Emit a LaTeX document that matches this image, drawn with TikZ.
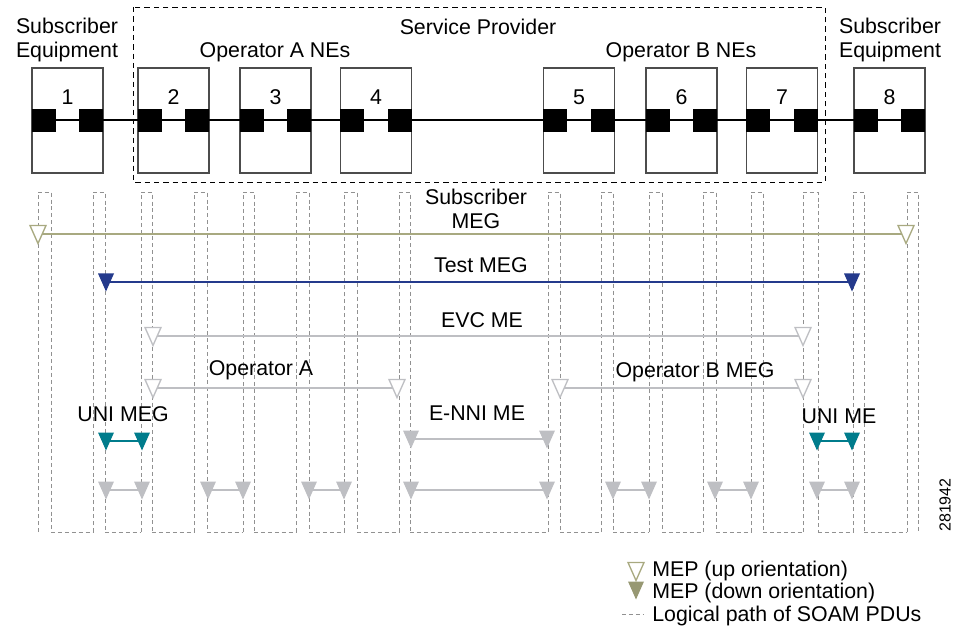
\documentclass[tikz,border=0pt]{standalone}
\usepackage{fontspec}
\setmainfont{Liberation Sans}
\usetikzlibrary{positioning}
\definecolor{subolive}{RGB}{168,169,128}
\definecolor{testblue}{RGB}{36,58,140}
\definecolor{megray}{RGB}{190,191,195}
\definecolor{uniteal}{RGB}{0,124,140}
\definecolor{pathgray}{RGB}{145,145,145}
\tikzset{
  nebox/.style = {draw=black!70, line width=0.8pt, minimum width=53.25pt,
                  minimum height=78.75pt, inner sep=0pt},
  port/.style = {fill=black, minimum width=18pt, minimum height=17.25pt, inner sep=0pt},
  lbl/.style = {font=\fontsize{16}{18.5}\selectfont, inner sep=0pt, align=center},
  soam/.style = {pathgray, line width=0.6pt, dash pattern=on 3pt off 2.2pt},
  megline/.style = {line width=1.6pt},
  mepUp/.pic = {
    % open triangle, tip down
    \filldraw[fill=white, line width=1pt] (-8,-8.5) -- (8,-8.5) -- (0,9.5) -- cycle;
             },
  mepDown/.pic = {
    % filled triangle, tip down
    \fill (-8,-8.5) -- (8,-8.5) -- (0,9.5) -- cycle;
             }
         }

\begin{document}
\begin{tikzpicture}[x=0.75pt,y=-0.75pt]
    \useasboundingbox (0,0) rectangle (955,641);
    % Service provider domain
    \draw[line width=0.7pt, dash pattern=on 4pt off 3pt] (133,7) rectangle (825,182);
    \node[lbl] (subeqL) at (67,40) {Subscriber\\Equipment};
    \node[lbl] (subeqR) at (890,40) {Subscriber\\Equipment};
    \node[lbl] (sprov) at (478,27) {Service Provider};
    \node[lbl] (opAne) at (275,52) {Operator A NEs};
    \node[lbl] (opBne) at (681,52) {Operator B NEs};
    % Network elements with their ports
    \foreach \n/\x in {1/67.5,2/173.5,3/275.5,4/376,5/579,6/681.5,7/782,8/889.5}{
      \node[nebox] (ne\n) at (\x,120.5) {};
      \node[lbl] (num\n) at (\x,97) {\n};
      \node[port, anchor=west] (ne\n L) at (ne\n.west) {};
      \node[port, anchor=east] (ne\n R) at (ne\n.east) {};
    }
    \draw[line width=1.5pt] (ne1L.center) -- (ne8R.center);
    % Logical path of SOAM PDUs
    \foreach \a/\b in {38/51,93/105,141/152,194/207,243/254,296/309,344/357,399/410,
                       548/560,601/613,649/662,703/716,751/763,803/818,853/864,907/918}
    \draw[soam] (\a,532) -- (\a,192) -- (\b,192) -- (\b,532);
    \foreach \b/\a in {51/93,105/141,152/194,207/243,254/296,309/344,357/399,410/548,
                       560/601,613/649,662/703,716/751,763/803,818/853,864/907}
    \draw[soam] (\b,532) -- (\a,532);
    % Subscriber MEG
    \node[lbl] (subMEG) at (476,209) {Subscriber\\MEG};
    \coordinate (subL) at (38,234);
    \coordinate (subR) at (906,234);
    \draw[megline, subolive] (subL) -- (subR);
    \pic[subolive] at (subL) {mepUp};
    \pic[subolive] at (subR) {mepUp};
    % Test MEG
    \node[lbl] (testMEG) at (481,265) {Test MEG};
    \coordinate (testL) at (106,282);
    \coordinate (testR) at (852,282);
    \draw[megline, testblue] (testL) -- (testR);
    \pic[testblue] at (testL) {mepDown};
    \pic[testblue] at (testR) {mepDown};
    % EVC ME
    \node[lbl] (evcME) at (482,320) {EVC ME};
    \coordinate (evcL) at (153,336);
    \coordinate (evcR) at (803,336);
    \draw[megline, megray] (evcL) -- (evcR);
    \pic[megray] at (evcL) {mepUp};
    \pic[megray] at (evcR) {mepUp};
    % Operator MEGs
    \node[lbl] (opA) at (261,370) {Operator A};
    \coordinate (opAL) at (153,388);
    \coordinate (opAR) at (397,388);
    \draw[megline, megray] (opAL) -- (opAR);
    \pic[megray] at (opAL) {mepUp};
    \pic[megray] at (opAR) {mepUp};
    \node[lbl] (opB) at (695,372) {Operator B MEG};
    \coordinate (opBL) at (560,388);
    \coordinate (opBR) at (803,388);
    \draw[megline, megray] (opBL) -- (opBR);
    \pic[megray] at (opBL) {mepUp};
    \pic[megray] at (opBR) {mepUp};
    % UNI and E-NNI
    \node[lbl] (uniMEG) at (123,414) {UNI MEG};
    \coordinate (umL) at (106,441);
    \coordinate (umR) at (142,441);
    \draw[megline, uniteal] (umL) -- (umR);
    \pic[uniteal] at (umL) {mepDown};
    \pic[uniteal] at (umR) {mepDown};
    \node[lbl] (enniME) at (477,413) {E-NNI ME};
    \coordinate (enL) at (411,439);
    \coordinate (enR) at (547,439);
    \draw[megline, megray] (enL) -- (enR);
    \pic[megray] at (enL) {mepDown};
    \pic[megray] at (enR) {mepDown};
    \node[lbl] (uniME) at (839,416) {UNI ME};
    \coordinate (ueL) at (817,441);
    \coordinate (ueR) at (852,441);
    \draw[megline, uniteal] (ueL) -- (ueR);
    \pic[uniteal] at (ueL) {mepDown};
    \pic[uniteal] at (ueR) {mepDown};
    % Link MEs
    \foreach \a/\b [count=\i] in {106/142,208/243,309/344,411/547,613/649,715/751,817/852}{
      \coordinate (pdL\i) at (\a,490);
      \coordinate (pdR\i) at (\b,490);
      \draw[megline, megray] (pdL\i) -- (pdR\i);
      \pic[megray] at (pdL\i) {mepDown};
      \pic[megray] at (pdR\i) {mepDown};
    }
    % Legend
    \pic[subolive] at (636,571) {mepUp};
    \node[lbl, anchor=west] (lgUp) at (652,571) {MEP (up orientation)};
    \pic[subolive!90!black] at (636,590) {mepDown};
    \node[lbl, anchor=west] (lgDown) at (652,593) {MEP (down orientation)};
    \coordinate (lgA) at (622,614);
    \coordinate (lgB) at (643,614);
    \draw[soam] (lgA) -- (lgB);
    \node[lbl, anchor=west] (lgPath) at (652,616) {Logical path of SOAM PDUs};
    \node[rotate=90, font=\fontsize{12}{14}\selectfont, inner sep=0pt] (figid) at (945,505) {281942};
\end{tikzpicture}
\end{document}
